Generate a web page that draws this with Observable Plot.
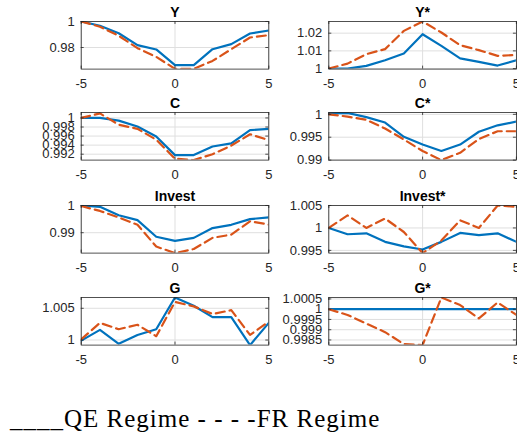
<!DOCTYPE html>
<html><head><meta charset="utf-8">
<script src="https://cdn.jsdelivr.net/npm/d3@7"></script>
<script src="https://cdn.jsdelivr.net/npm/@observablehq/plot@0.6"></script>
<style>
html,body{margin:0;padding:0;background:#fff;}
#wrap{position:relative;width:517px;height:436px;overflow:hidden;background:#fff;}
.panel{position:absolute;}
.panel svg{display:block;}
#legend{position:absolute;left:10px;top:406px;font-family:"Liberation Serif","Times New Roman",serif;font-size:25px;line-height:25px;letter-spacing:1px;white-space:pre;color:#000;}
</style></head><body>
<div id="wrap"><div id="legend">____QE Regime - - - -FR Regime</div></div>
<script>
// horizon (x axis) and tick labels
const horizon = [-5, -4, -3, -2, -1, 0, 1, 2, 3, 4, 5];
const xTicks = [-5, 0, 5];
const titles = ["Y", "Y*", "C", "C*", "Invest", "Invest*", "G", "G*"];
const seriesNames = ["QE Regime", "FR Regime"];

// series values (QE = solid blue, FR = dashed orange)
const qeY   = [1.0, 0.9967, 0.991, 0.9818, 0.9785, 0.9664, 0.9664, 0.9787, 0.9826, 0.9908, 0.9931];
const frY   = [1.0, 0.996, 0.989, 0.9795, 0.9728, 0.9636, 0.9636, 0.9697, 0.9787, 0.9877, 0.9895];
const qeYs  = [1.0, 1.0, 1.0015, 1.0047, 1.0085, 1.0194, 1.0128, 1.0058, 1.0038, 1.0017, 1.0047];
const frYs  = [1.0, 1.0028, 1.0081, 1.011, 1.0213, 1.0266, 1.0204, 1.0132, 1.0104, 1.0072, 1.0077];
const qeC   = [1.0, 1.0, 0.9994, 0.9981, 0.9959, 0.9918, 0.9918, 0.9937, 0.9944, 0.9973, 0.9976];
const frC   = [1.0, 1.0010, 0.9985, 0.9976, 0.9952, 0.991, 0.9907, 0.992, 0.9939, 0.9964, 0.9951];
const qeCs  = [1.0002, 1.0003, 0.9994, 0.9982, 0.9951, 0.9934, 0.992, 0.9934, 0.9962, 0.9976, 0.9984];
const frCs  = [1.0, 0.9995, 0.9988, 0.9969, 0.9945, 0.992, 0.9900, 0.9916, 0.9946, 0.9963, 0.9963];
const qeI   = [1.0, 0.9995, 0.9964, 0.9946, 0.9885, 0.987, 0.9881, 0.9917, 0.9929, 0.995, 0.9956];
const frI   = [0.9998, 0.998, 0.9956, 0.9929, 0.9849, 0.9825, 0.984, 0.9881, 0.9893, 0.9942, 0.993];
const qeIs  = [1.0, 0.9986, 0.9988, 0.9969, 0.9959, 0.9952, 0.9969, 0.9989, 0.9984, 0.9988, 0.9969];
const frIs  = [1.0, 1.0028, 1.0, 1.0021, 0.9991, 0.9944, 0.9972, 1.0017, 1.0, 1.005, 1.0047];
const qeG   = [0.9999, 1.0016, 0.9994, 1.0008, 1.0017, 1.0067, 1.0054, 1.0036, 1.0036, 0.9992, 1.0027];
const frG   = [1.0001, 1.0027, 1.0017, 1.0024, 1.0006, 1.006, 1.0053, 1.0041, 1.0047, 1.0008, 1.0029];
const qeGs  = [1, 1, 1, 1, 1, 1, 1, 1, 1, 1, 1];
const frGs  = [1.0, 0.99972, 0.9993, 0.99888, 0.9983, 0.99825, 1.00057, 1.0002, 0.99955, 1.00033, 0.99972];

// y tick labels per panel
const ticksY   = [0.98, 1];
const ticksYs  = [1, 1.01, 1.02];
const ticksC   = [0.992, 0.994, 0.996, 0.998, 1];
const ticksCs  = [0.99, 0.995, 1];
const ticksI   = [0.99, 1];
const ticksIs  = [0.995, 1, 1.005];
const ticksG   = [1, 1.005];
const ticksGs  = [0.9985, 0.999, 0.9995, 1, 1.0005];

const panels = [
  {title: titles[0], qe: qeY,  fr: frY,  ticks: ticksY,  dom: [0.9634, 1.0]},
  {title: titles[1], qe: qeYs, fr: frYs, ticks: ticksYs, dom: [0.9997, 1.0266]},
  {title: titles[2], qe: qeC,  fr: frC,  ticks: ticksC,  dom: [0.9907, 1.0012]},
  {title: titles[3], qe: qeCs, fr: frCs, ticks: ticksCs, dom: [0.9900, 1.0004]},
  {title: titles[4], qe: qeI,  fr: frI,  ticks: ticksI,  dom: [0.9825, 1.0]},
  {title: titles[5], qe: qeIs, fr: frIs, ticks: ticksIs, dom: [0.9944, 1.005]},
  {title: titles[6], qe: qeG,  fr: frG,  ticks: ticksG,  dom: [0.9992, 1.0067]},
  {title: titles[7], qe: qeGs, fr: frGs, ticks: ticksGs, dom: [0.99825, 1.00057]}
];

const rowTops = [20.7, 111.7, 204.5, 297];
const boxH = 47.6, boxW = 187.6;
const mt = 24, mb = 28;
const fmtY = d => String(+(+d).toFixed(6));
const wrap = document.getElementById("wrap");

panels.forEach((p, i) => {
  const col = i % 2, row = Math.floor(i / 2);
  const left = col === 0 ? 0 : 275;
  const ml = col === 0 ? 80.7 : 53.3;
  const width = col === 0 ? 275 : 242;
  const mr = width - ml - boxW;
  const data = horizon.map((h, k) => ({h, qe: p.qe[k], fr: p.fr[k]}));
  const chart = Plot.plot({
    width, height: mt + boxH + mb,
    marginTop: mt, marginBottom: mb, marginLeft: ml, marginRight: mr,
    x: {domain: [-5, 5]},
    y: {domain: p.dom},
    style: {fontFamily: "'Liberation Sans', Arial, sans-serif", fontSize: "13px", color: "#262626", background: "transparent", overflow: "visible"},
    marks: [
      Plot.gridX(xTicks, {stroke: "#dfdfdf", strokeOpacity: 1, strokeWidth: 1}),
      Plot.gridY(p.ticks, {stroke: "#dfdfdf", strokeOpacity: 1, strokeWidth: 1}),
      Plot.lineY(data, {x: "h", y: "qe", stroke: "#0072BD", strokeWidth: 2.2, clip: true}),
      Plot.lineY(data, {x: "h", y: "fr", stroke: "#D95319", strokeWidth: 2.2, strokeDasharray: "9,5", clip: true}),
      Plot.frame({stroke: "#262626", strokeWidth: 0.8}),
      Plot.tickX(xTicks, {x: d => d, insetTop: boxH - 3, stroke: "#262626", strokeWidth: 0.8}),
      Plot.tickX(xTicks, {x: d => d, insetBottom: boxH - 3, stroke: "#262626", strokeWidth: 0.8}),
      Plot.tickY(p.ticks, {y: d => d, insetRight: boxW - 3, stroke: "#262626", strokeWidth: 0.8}),
      Plot.tickY(p.ticks, {y: d => d, insetLeft: boxW - 3, stroke: "#262626", strokeWidth: 0.8}),
      Plot.axisX(xTicks, {tickSize: 0, tickPadding: 9.5, tickFormat: d => String(d), label: null, fontSize: 13, fill: "#262626"}),
      Plot.axisY(p.ticks, {tickSize: 0, tickPadding: 6.5, tickFormat: fmtY, label: null, fontSize: 13, fill: "#262626"}),
      Plot.text([p.title], {text: d => d, frameAnchor: "top", lineAnchor: "bottom", dy: -4.7, fontWeight: "bold", fontSize: 14, fill: "#000"})
    ]
  });
  const div = document.createElement("div");
  div.className = "panel";
  div.style.left = left + "px";
  div.style.top = (rowTops[row] - mt) + "px";
  div.appendChild(chart);
  wrap.appendChild(div);
});
</script>
</body></html>
